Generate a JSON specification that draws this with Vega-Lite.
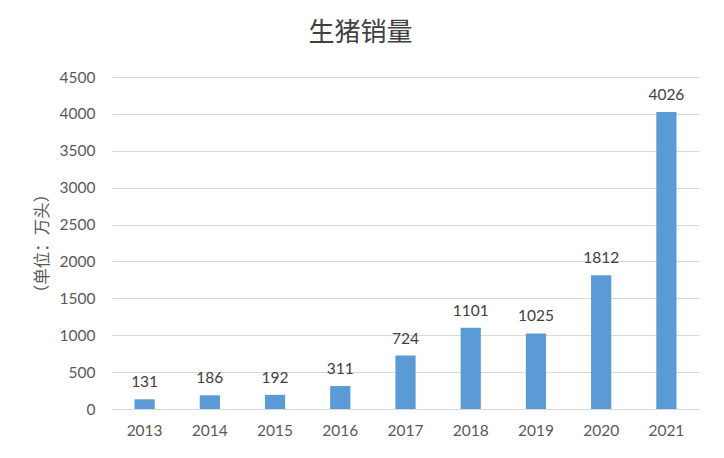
{
  "$schema": "https://vega.github.io/schema/vega-lite/v6.json",
  "width": 587,
  "height": 332,
  "autosize": {"type": "none"},
  "padding": {"left": 112, "top": 77, "right": 25, "bottom": 49},
  "background": "white",
  "title": {
    "text": "生猪销量",
    "fontSize": 26,
    "fontWeight": "normal",
    "color": "#404040",
    "font": "Noto Sans CJK SC",
    "anchor": "middle",
    "dx": -45,
    "offset": 24
  },
  "data": {
    "values": [
      {"year": "2013", "sales": 131},
      {"year": "2014", "sales": 186},
      {"year": "2015", "sales": 192},
      {"year": "2016", "sales": 311},
      {"year": "2017", "sales": 724},
      {"year": "2018", "sales": 1101},
      {"year": "2019", "sales": 1025},
      {"year": "2020", "sales": 1812},
      {"year": "2021", "sales": 4026}
    ]
  },
  "encoding": {
    "x": {
      "field": "year",
      "type": "nominal",
      "title": null,
      "scale": {"paddingInner": 0.69, "paddingOuter": 0.345},
      "axis": {
        "labelAngle": 0,
        "ticks": false,
        "domainColor": "#d9d9d9",
        "labelPadding": 14,
        "labelFontSize": 15.5,
        "labelColor": "#595959",
        "labelFont": "Lato"
      }
    },
    "y": {
      "field": "sales",
      "type": "quantitative",
      "title": "（单位：万头）",
      "scale": {"domain": [0, 4500]},
      "axis": {
        "values": [0, 500, 1000, 1500, 2000, 2500, 3000, 3500, 4000, 4500],
        "format": "d",
        "domain": false,
        "ticks": false,
        "gridColor": "#d9d9d9",
        "labelPadding": 17,
        "labelFontSize": 15.5,
        "labelColor": "#595959",
        "labelFont": "Lato",
        "titleFont": "Noto Sans CJK SC",
        "titleFontSize": 16.5,
        "titleFontWeight": "normal",
        "titleColor": "#595959",
        "titlePadding": 9
      }
    }
  },
  "layer": [
    {"mark": {"type": "bar", "color": "#5b9bd5"}},
    {
      "mark": {
        "type": "text",
        "baseline": "bottom",
        "dy": -9,
        "fontSize": 15.5,
        "font": "Lato",
        "color": "#404040"
      },
      "encoding": {"text": {"field": "sales", "type": "quantitative"}}
    }
  ],
  "config": {"view": {"stroke": null}}
}
